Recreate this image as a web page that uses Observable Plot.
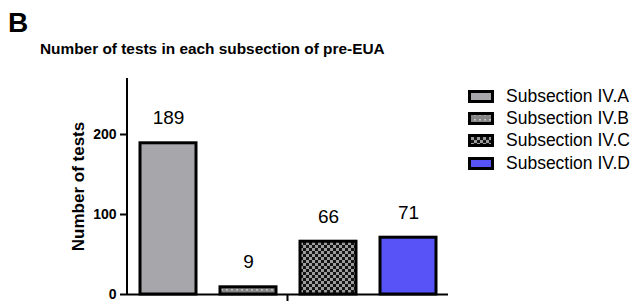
<!DOCTYPE html>
<html>
<head>
<meta charset="utf-8">
<script src="https://cdn.jsdelivr.net/npm/d3@7"></script>
<script src="https://cdn.jsdelivr.net/npm/@observablehq/plot@0.6"></script>
<style>
  html, body { margin: 0; padding: 0; background: #fff; }
  body { width: 636px; height: 306px; position: relative; overflow: hidden; font-family: "Liberation Sans", Arial, sans-serif; color: #000; }
  #panel { position: absolute; left: 8px; top: 9px; font-size: 28px; font-weight: bold; line-height: 1; }
  #title { position: absolute; left: 40px; top: 41px; font-size: 15.4px; font-weight: bold; line-height: 1; white-space: nowrap; }
  #chart { position: absolute; left: 0; top: 62px; }
  #legend { position: absolute; left: 468px; top: 85px; }
  .row { display: flex; align-items: center; height: 22.3px; }
  .row svg { margin-right: 12px; }
  .row span { font-size: 17.5px; white-space: nowrap; }
</style>
</head>
<body>
<svg width="0" height="0" style="position:absolute">
  <defs>
    <pattern id="pat-dots" width="5" height="5" patternUnits="userSpaceOnUse">
      <rect width="5" height="5" fill="#858585"></rect>
      <rect x="1" y="2" width="2" height="1.5" fill="#c4c4c4"></rect>
    </pattern>
    <pattern id="pat-check" width="6" height="6" patternUnits="userSpaceOnUse">
      <rect width="6" height="6" fill="#141414"></rect>
      <rect x="0" y="0" width="3" height="3" fill="#9c9c9c"></rect>
      <rect x="3" y="3" width="3" height="3" fill="#9c9c9c"></rect>
    </pattern>
  </defs>
</svg>
<div id="panel">B</div>
<div id="title">Number of tests in each subsection of pre-EUA</div>
<div id="chart"></div>
<div id="legend"></div>
<script>
const categories = ["Subsection IV.A", "Subsection IV.B", "Subsection IV.C", "Subsection IV.D"];
const counts = [189, 9, 66, 71];
const yTicks = [0, 100, 200];
const yLabel = "Number of tests";

const fills = {
  "Subsection IV.A": "#a7a6ab",
  "Subsection IV.B": "url(#pat-dots)",
  "Subsection IV.C": "url(#pat-check)",
  "Subsection IV.D": "#5853f6"
};

const data = categories.map((c, i) => ({category: c, value: counts[i]}));

function centerTick(index, scales, values, dimensions) {
  const {width, marginLeft, marginRight, height, marginBottom} = dimensions;
  const cx = (marginLeft + width - marginRight) / 2;
  const y0 = height - marginBottom;
  const g = document.createElementNS("http://www.w3.org/2000/svg", "line");
  g.setAttribute("x1", cx); g.setAttribute("x2", cx);
  g.setAttribute("y1", y0); g.setAttribute("y2", y0 + 7);
  g.setAttribute("stroke", "#000"); g.setAttribute("stroke-width", 2);
  return g;
}

function yAxisLine(index, scales, values, dimensions) {
  const {marginLeft, marginTop, height, marginBottom} = dimensions;
  const g = document.createElementNS("http://www.w3.org/2000/svg", "line");
  g.setAttribute("x1", marginLeft); g.setAttribute("x2", marginLeft);
  g.setAttribute("y1", marginTop); g.setAttribute("y2", height - marginBottom + 1);
  g.setAttribute("stroke", "#000"); g.setAttribute("stroke-width", 2);
  return g;
}

const plot = Plot.plot({
  width: 460,
  height: 244,
  marginLeft: 127,
  marginRight: 12,
  marginTop: 16,
  marginBottom: 12,
  style: {fontFamily: "'Liberation Sans', Arial, sans-serif", color: "#000", background: "transparent"},
  x: {domain: categories, paddingInner: 0.3, paddingOuter: 0.14, axis: null},
  y: {domain: [0, 270], axis: null},
  color: {type: "identity"},
  marks: [
    Plot.barY(data, {x: "category", y: "value", fill: d => fills[d.category], stroke: "#000", strokeWidth: 3}),
    Plot.ruleY([0], {stroke: "#000", strokeWidth: 2}),
    yAxisLine,
    centerTick,
    Plot.axisY({ticks: yTicks, tickSize: 7, tickPadding: 4, fontSize: 14, fontWeight: "bold", strokeWidth: 2, label: null}),
    Plot.text(data, {x: "category", y: "value", text: d => String(d.value), dy: -25, fontSize: 19, fill: "#000"}),
    Plot.text([yLabel], {frameAnchor: "left", textAnchor: "middle", text: d => d, rotate: -90, dx: -49, fontSize: 17, fontWeight: "bold", fill: "#000"})
  ]
});
document.getElementById("chart").appendChild(plot);

const legend = d3.select("#legend");
categories.forEach(c => {
  const row = legend.append("div").attr("class", "row");
  const s = row.append("svg").attr("width", 26).attr("height", 13);
  s.append("rect").attr("x", 1.5).attr("y", 1.5).attr("width", 23).attr("height", 10)
    .attr("fill", fills[c]).attr("stroke", "#000").attr("stroke-width", 3);
  row.append("span").text(c);
});
</script>
</body>
</html>
